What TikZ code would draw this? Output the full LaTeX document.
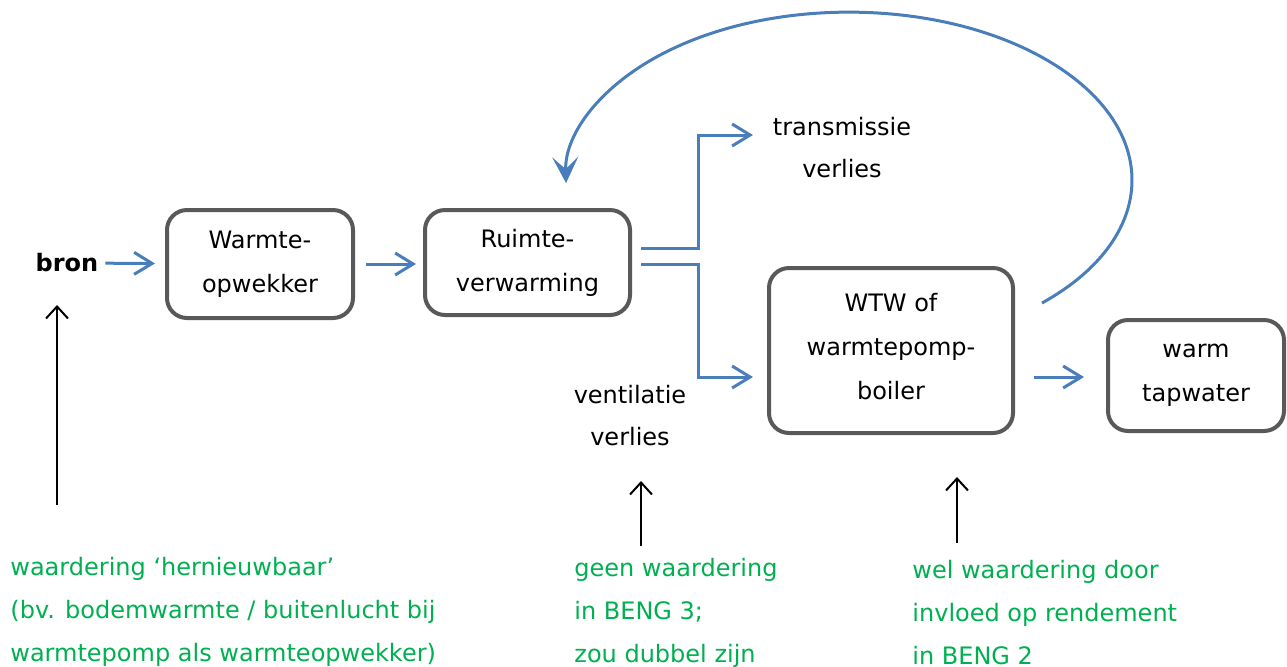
\documentclass[tikz,border=0pt]{standalone}
\usepackage{fontspec}
\setmainfont{DejaVu Sans}
\usetikzlibrary{arrows.meta}
\definecolor{flowblue}{HTML}{4A7EBB}
\definecolor{boxgray}{HTML}{595959}
\definecolor{notegreen}{HTML}{00B050}
\tikzset{
	unit/.style={draw=boxgray, line width=2pt, rounded corners=10pt, align=center,
		font=\fontsize{12}{22}\selectfont},
	flow/.style={draw=flowblue, line width=1.5pt, -{Straight Barb[length=9pt,width=11pt]}},
	loopback/.style={draw=flowblue, line width=1.5pt,
		-{Stealth[length=13pt,width=13pt,inset=6pt,fill=flowblue]}},
	pointer/.style={line width=1pt, -{Straight Barb[length=6pt,width=11pt]}},
	remark/.style={text=notegreen, align=left, anchor=west, inner sep=0pt,
		font=\fontsize{12}{21.5}\selectfont},
	tag/.style={align=center, inner sep=0pt, font=\fontsize{12}{21}\selectfont}
}
\begin{document}
\begin{tikzpicture}[x=0.5pt,y=-0.5pt]
\useasboundingbox (0,0) rectangle (1287,666);
% boxes
\node[font=\fontsize{12}{22}\selectfont\bfseries] (bron) at (67,263) {bron};
\node[unit, minimum width=93pt, minimum height=54pt] (opw) at (260,264) {Warmte-\\opwekker};
\node[unit, minimum width=102.5pt, minimum height=52.5pt] (ruimte) at (527.5,262.5) {Ruimte-\\verwarming};
\node[unit, minimum width=122pt, minimum height=82.5pt, text depth=4pt] (wtw) at (891,350.5) {WTW of\\warmtepomp-\\boiler};
\node[unit, minimum width=88pt, minimum height=55.5pt] (tap) at (1196,375.5) {warm\\tapwater};
% losses
\node[tag] (trans) at (842,148) {transmissie\\verlies};
\node[tag] (vent) at (630,416) {ventilatie\\verlies};
% remarks
\node[remark] (note1) at (10,611.5) {waardering ‘hernieuwbaar’\\(bv. bodemwarmte / buitenlucht bij\\warmtepomp als warmteopwekker)};
\node[remark] (note2) at (574,613) {geen waardering\\in BENG 3;\\zou dubbel zijn};
\node[remark] (note3) at (912,613) {wel waardering door\\invloed op rendement\\in BENG 2};
% flows
\draw[flow, shorten >=5pt] (bron) -- (opw);
\draw[flow] ([xshift=5.5pt]opw.east) -- ([xshift=-3.5pt]opw.east -| ruimte.west);
\coordinate (transin) at (753,135);
\coordinate (wtwin) at ([shift={(-14,26.5)}]wtw.west);
\draw[flow] ([shift={(9,-14.5)}]ruimte.east) -- ++(57,0) |- (transin);
\draw[flow] ([shift={(9,1.5)}]ruimte.east) -- ++(57,0) |- (wtwin);
\draw[flow] ([shift={(19,26.5)}]wtw.east) -- ([shift={(-22,1.5)}]tap.west);
\coordinate (loopstart) at (1042,303);
\draw[loopback] (loopstart) arc[start angle=47, end angle=-181, x radius=283, y radius=168];
% remarks point up
\coordinate (p1) at (57,505);
\coordinate (p2) at (641,546);
\coordinate (p3) at (957,543);
\draw[pointer] (p1) -- ++(0,-200);
\draw[pointer] (p2) -- ++(0,-65);
\draw[pointer] (p3) -- ++(0,-66);
\end{tikzpicture}
\end{document}
